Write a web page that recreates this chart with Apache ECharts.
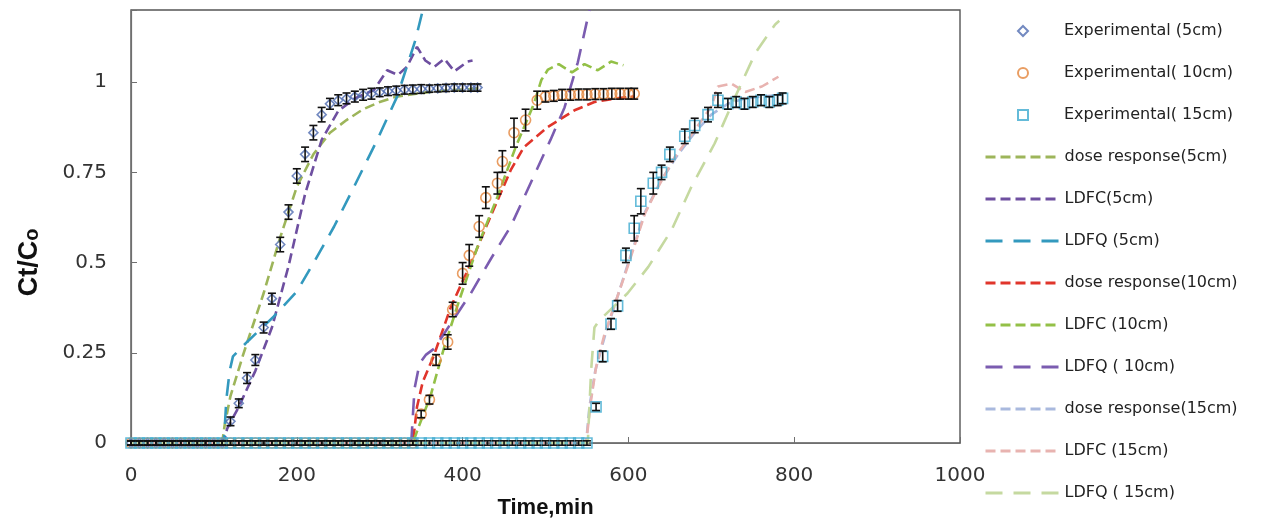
<!DOCTYPE html>
<html>
<head>
<meta charset="utf-8">
<script src="https://cdn.jsdelivr.net/npm/echarts@6/dist/echarts.min.js"></script>
<style>
  html, body { margin: 0; padding: 0; background: #fff; }
  #chart { width: 1268px; height: 525px; }
</style>
</head>
<body>
<div id="chart"></div>
<script>
// experimental points (time, Ct/C0, error bar half-height)
const exp5T = [0, 10, 20, 30, 40, 50, 60, 70, 80, 90, 100, 110,
  120, 130, 140, 150, 160, 170, 180, 190, 200, 210, 220, 230, 240, 250, 260, 270, 280, 290,
  300, 310, 320, 330, 340, 350, 360, 370, 380, 390, 400, 410, 418];
const exp5C = [0, 0, 0, 0, 0, 0, 0, 0, 0, 0, 0, 0,
  0.06, 0.11, 0.18, 0.23, 0.32, 0.40, 0.55, 0.64, 0.74, 0.80, 0.86, 0.91, 0.94, 0.95, 0.955, 0.96, 0.965, 0.968,
  0.972, 0.975, 0.977, 0.979, 0.98, 0.981, 0.982, 0.983, 0.984, 0.985, 0.985, 0.985, 0.985];
const exp5E = [0.006, 0.006, 0.006, 0.006, 0.006, 0.006, 0.006, 0.006, 0.006, 0.006, 0.006, 0.006,
  0.012, 0.012, 0.015, 0.015, 0.015, 0.015, 0.02, 0.02, 0.02, 0.02, 0.02, 0.02, 0.015, 0.015, 0.015, 0.015, 0.015, 0.015,
  0.012, 0.012, 0.012, 0.012, 0.012, 0.012, 0.01, 0.01, 0.01, 0.01, 0.01, 0.01, 0.01];

const exp10T = [0, 10, 20, 30, 40, 50, 60, 70, 80, 90, 100, 110, 120, 130, 140, 150, 160, 170,
  180, 190, 200, 210, 220, 230, 240, 250, 260, 270, 280, 290, 300, 310, 320, 330, 340,
  350, 360, 368, 382, 388, 400, 408, 420, 428, 442, 448, 462, 476, 490,
  500, 510, 520, 530, 540, 550, 560, 570, 580, 590, 600, 607];
const exp10C = [0, 0, 0, 0, 0, 0, 0, 0, 0, 0, 0, 0, 0, 0, 0, 0, 0, 0,
  0, 0, 0, 0, 0, 0, 0, 0, 0, 0, 0, 0, 0, 0, 0, 0, 0,
  0.08, 0.12, 0.23, 0.28, 0.37, 0.47, 0.52, 0.60, 0.68, 0.72, 0.78, 0.86, 0.895, 0.95,
  0.96, 0.962, 0.965, 0.965, 0.966, 0.966, 0.967, 0.967, 0.968, 0.968, 0.968, 0.968];
const exp10E = [0.006, 0.006, 0.006, 0.006, 0.006, 0.006, 0.006, 0.006, 0.006, 0.006, 0.006, 0.006, 0.006, 0.006, 0.006, 0.006, 0.006, 0.006,
  0.006, 0.006, 0.006, 0.006, 0.006, 0.006, 0.006, 0.006, 0.006, 0.006, 0.006, 0.006, 0.006, 0.006, 0.006, 0.006, 0.006,
  0.01, 0.012, 0.015, 0.02, 0.02, 0.03, 0.03, 0.03, 0.03, 0.03, 0.03, 0.04, 0.03, 0.025,
  0.015, 0.015, 0.015, 0.015, 0.015, 0.015, 0.015, 0.015, 0.015, 0.015, 0.015, 0.015];

const exp15T = [0, 10, 20, 30, 40, 50, 60, 70, 80, 90, 100, 110, 120, 130, 140, 150, 160, 170,
  180, 190, 200, 210, 220, 230, 240, 250, 260, 270, 280, 290, 300, 310, 320, 330, 340, 350,
  360, 370, 380, 390, 400, 410, 420, 430, 440, 450, 460, 470, 480, 490, 500, 510, 520, 530, 540, 550,
  561, 569, 579, 587, 597, 607, 615, 630, 640, 650, 668, 680, 696, 708,
  720, 730, 740, 750, 760, 770, 780, 786];
const exp15C = [0, 0, 0, 0, 0, 0, 0, 0, 0, 0, 0, 0, 0, 0, 0, 0, 0, 0,
  0, 0, 0, 0, 0, 0, 0, 0, 0, 0, 0, 0, 0, 0, 0, 0, 0, 0,
  0, 0, 0, 0, 0, 0, 0, 0, 0, 0, 0, 0, 0, 0, 0, 0, 0, 0, 0, 0,
  0.10, 0.24, 0.33, 0.38, 0.52, 0.595, 0.67, 0.72, 0.75, 0.80, 0.85, 0.88, 0.91, 0.95,
  0.94, 0.945, 0.94, 0.945, 0.95, 0.945, 0.95, 0.955];
const exp15E = [0.006, 0.006, 0.006, 0.006, 0.006, 0.006, 0.006, 0.006, 0.006, 0.006, 0.006, 0.006, 0.006, 0.006, 0.006, 0.006, 0.006, 0.006,
  0.006, 0.006, 0.006, 0.006, 0.006, 0.006, 0.006, 0.006, 0.006, 0.006, 0.006, 0.006, 0.006, 0.006, 0.006, 0.006, 0.006, 0.006,
  0.006, 0.006, 0.006, 0.006, 0.006, 0.006, 0.006, 0.006, 0.006, 0.006, 0.006, 0.006, 0.006, 0.006, 0.006, 0.006, 0.006, 0.006, 0.006, 0.006,
  0.01, 0.015, 0.015, 0.015, 0.02, 0.035, 0.035, 0.03, 0.02, 0.02, 0.02, 0.02, 0.02, 0.02,
  0.015, 0.015, 0.015, 0.015, 0.015, 0.015, 0.015, 0.015];

// model curves
const dose5T = [0, 110, 113, 120, 136, 160, 180, 200, 220, 240, 260, 280, 300, 320, 350, 380, 418];
const dose5C = [0, 0, 0.05, 0.13, 0.25, 0.415, 0.57, 0.71, 0.80, 0.86, 0.895, 0.925, 0.945, 0.96, 0.97, 0.977, 0.982];
const ldfc5T = [0, 112, 116, 130, 150, 170, 190, 210, 230, 250, 270, 293, 309, 322, 333, 345, 355, 366, 378, 390, 406, 412];
const ldfc5C = [0, 0, 0.04, 0.10, 0.20, 0.32, 0.49, 0.69, 0.84, 0.92, 0.955, 0.978, 1.033, 1.02, 1.043, 1.098, 1.06, 1.043, 1.065, 1.03, 1.057, 1.06];
const ldfq5T = [0, 112, 115, 119, 123, 140, 172, 200, 220, 245, 269, 297, 321, 343, 352];
const ldfq5C = [0, 0, 0.12, 0.20, 0.24, 0.28, 0.35, 0.42, 0.498, 0.60, 0.71, 0.84, 0.96, 1.116, 1.2];

const dose10T = [0, 338, 341, 345, 352, 365, 386, 410, 430, 458, 474, 503, 535, 559, 585, 607];
const dose10C = [0, 0, 0.02, 0.10, 0.17, 0.24, 0.378, 0.498, 0.608, 0.756, 0.82, 0.876, 0.922, 0.945, 0.955, 0.96];
const ldfc10T = [0, 340, 347, 361, 378, 396, 418, 442, 464, 486, 495, 503, 516, 532, 547, 563, 579, 594];
const ldfc10C = [0, 0, 0.045, 0.128, 0.267, 0.396, 0.544, 0.682, 0.82, 0.94, 1.006, 1.035, 1.05, 1.027, 1.05, 1.033, 1.057, 1.047];
const ldfq10T = [0, 338, 342, 348, 356, 366, 386, 410, 434, 458, 482, 506, 523, 539, 553];
const ldfq10C = [0, 0, 0.15, 0.22, 0.245, 0.262, 0.332, 0.415, 0.51, 0.60, 0.72, 0.84, 0.93, 1.055, 1.2];

const dose15T = [0, 549, 553, 560, 572, 600, 620, 640, 660, 680, 700, 720, 740, 760, 786];
const dose15C = [0, 0, 0.10, 0.20, 0.30, 0.50, 0.64, 0.73, 0.80, 0.86, 0.91, 0.94, 0.955, 0.96, 0.965];
const ldfc15T = [0, 549, 555, 561, 571, 599, 620, 636, 656, 680, 700, 708, 724, 741, 761, 781];
const ldfc15C = [0, 0, 0.12, 0.21, 0.30, 0.488, 0.636, 0.71, 0.793, 0.867, 0.932, 0.988, 0.996, 0.973, 0.988, 1.015];
const ldfq15T = [0, 551, 555, 559, 565, 599, 624, 652, 676, 704, 729, 753, 777, 782];
const ldfq15C = [0, 0, 0.20, 0.32, 0.34, 0.415, 0.488, 0.59, 0.71, 0.83, 0.96, 1.08, 1.16, 1.17];

const xTicks = { min: 0, max: 1000, interval: 200 };
const yTicks = { min: 0, max: 1.2, interval: 0.25 };

const expNames = ['Experimental (5cm)', 'Experimental( 10cm)', 'Experimental( 15cm)'];
const modelNames = [
  'dose response(5cm)', 'LDFC(5cm)', 'LDFQ (5cm)',
  'dose response(10cm)', 'LDFC (10cm)', 'LDFQ ( 10cm)',
  'dose response(15cm)', 'LDFC (15cm)', 'LDFQ ( 15cm)'
];

const font = "'DejaVu Sans', 'Liberation Sans', sans-serif";
const boldFont = "'Liberation Sans', Arial, sans-serif";

function pairs(t, c) {
  return t.map((v, i) => [v, c[i]]);
}
function triples(t, c, e) {
  return t.map((v, i) => [v, c[i], e[i]]);
}

// black I-shaped error bars
function renderErr(params, api) {
  const x = api.value(0), y = api.value(1), e = api.value(2);
  const hi = api.coord([x, y + e]);
  const lo = api.coord([x, y - e]);
  const w = 4;
  const st = { stroke: '#111', lineWidth: 1.6 };
  return {
    type: 'group',
    children: [
      { type: 'line', shape: { x1: hi[0], y1: hi[1], x2: lo[0], y2: lo[1] }, style: st },
      { type: 'line', shape: { x1: hi[0] - w, y1: hi[1], x2: hi[0] + w, y2: hi[1] }, style: st },
      { type: 'line', shape: { x1: lo[0] - w, y1: lo[1], x2: lo[0] + w, y2: lo[1] }, style: st }
    ]
  };
}

function expSeries(name, symbol, color, size, t, c) {
  return {
    name: name,
    type: 'scatter',
    symbol: symbol,
    symbolSize: size,
    data: pairs(t, c),
    z: 3,
    itemStyle: { color: 'rgba(255,255,255,0)', borderColor: color, borderWidth: 1.6 }
  };
}
function errSeries(t, c, e) {
  return {
    type: 'custom',
    renderItem: renderErr,
    data: triples(t, c, e),
    z: 4,
    silent: true
  };
}
function lineSeries(name, color, dash, t, c) {
  return {
    name: name,
    type: 'line',
    symbol: 'none',
    data: pairs(t, c),
    z: 2,
    itemStyle: { color: color },
    lineStyle: { color: color, width: 2.6, type: dash }
  };
}

const SHORT = [10, 5];
const LONG = [17, 11];

let myChart = echarts.init(document.getElementById('chart'));
myChart.setOption({
  animation: false,
  textStyle: { fontFamily: font },
  grid: {
    left: 131, right: 308, top: 10, bottom: 82,
    show: true, borderColor: '#555', borderWidth: 1.4
  },
  legend: [
    {
      // markers
      orient: 'vertical',
      left: 1012,
      top: 18,
      itemWidth: 10,
      itemHeight: 10,
      itemGap: 26,
      selectedMode: false,
      textStyle: { fontSize: 16, color: '#222', lineHeight: 16, fontFamily: font, padding: [0, 0, 0, 31] },
      data: expNames
    },
    {
      // dashed model lines
      orient: 'vertical',
      left: 979,
      top: 144,
      itemWidth: 74,
      itemHeight: 10,
      itemGap: 26,
      selectedMode: false,
      itemStyle: { opacity: 0 },
      lineStyle: { width: 3 },
      textStyle: { fontSize: 16, color: '#222', lineHeight: 16, fontFamily: font },
      data: modelNames
    }
  ],
  xAxis: {
    type: 'value',
    min: xTicks.min, max: xTicks.max, interval: xTicks.interval,
    name: 'Time,min',
    nameLocation: 'middle',
    nameGap: 54,
    nameTextStyle: { fontSize: 22, fontWeight: 'bold', color: '#111', fontFamily: boldFont },
    axisLine: { show: true, lineStyle: { color: '#6f6f6f', width: 1.2 } },
    axisTick: { show: true, inside: true, length: 6, lineStyle: { color: '#6f6f6f' } },
    axisLabel: { fontSize: 20, color: '#333', margin: 23, formatter: (v) => String(v) },
    splitLine: { show: false }
  },
  yAxis: {
    type: 'value',
    min: yTicks.min, max: yTicks.max, interval: yTicks.interval,
    name: '{a|Ct/C}{s|o}',
    nameLocation: 'middle',
    nameGap: 88,
    nameTextStyle: {
      padding: [0, 72, 0, 0],
      rich: {
        a: { fontSize: 27, fontWeight: 'bold', color: '#111', fontFamily: boldFont },
        s: { fontSize: 20, fontWeight: 'bold', color: '#111', fontFamily: boldFont, padding: [6, 0, 0, 0] }
      }
    },
    axisLine: { show: true, lineStyle: { color: '#6f6f6f', width: 1.2 } },
    axisTick: { show: true, inside: true, length: 6, lineStyle: { color: '#6f6f6f' } },
    axisLabel: {
      fontSize: 20, color: '#333', margin: 24,
      formatter: (v) => (v > 1.0001 ? '' : String(v))
    },
    splitLine: { show: false }
  },
  series: [
    lineSeries(modelNames[0], '#9DB55A', SHORT, dose5T, dose5C),
    lineSeries(modelNames[1], '#6E4FA0', SHORT, ldfc5T, ldfc5C),
    lineSeries(modelNames[2], '#3399BE', LONG, ldfq5T, ldfq5C),
    lineSeries(modelNames[3], '#E0352B', SHORT, dose10T, dose10C),
    lineSeries(modelNames[4], '#93C047', SHORT, ldfc10T, ldfc10C),
    lineSeries(modelNames[5], '#7B5CB0', LONG, ldfq10T, ldfq10C),
    lineSeries(modelNames[6], '#A9B9DE', SHORT, dose15T, dose15C),
    lineSeries(modelNames[7], '#E8B3B0', SHORT, ldfc15T, ldfc15C),
    lineSeries(modelNames[8], '#C5D9A0', LONG, ldfq15T, ldfq15C),
    expSeries(expNames[0], 'diamond', '#4F6CB0', 9, exp5T, exp5C),
    expSeries(expNames[1], 'circle', '#E3843B', 10, exp10T, exp10C),
    expSeries(expNames[2], 'rect', '#3DAAD0', 10, exp15T, exp15C),
    errSeries(exp5T, exp5C, exp5E),
    errSeries(exp10T, exp10C, exp10E),
    errSeries(exp15T, exp15C, exp15E)
  ]
});
</script>
</body>
</html>
